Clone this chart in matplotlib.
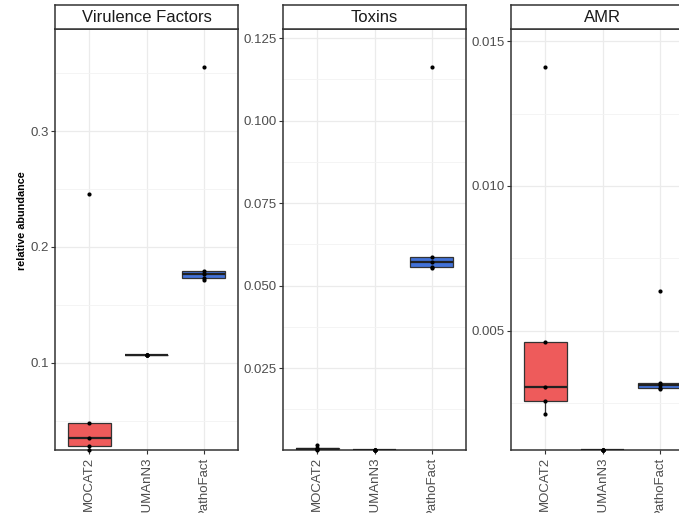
import matplotlib
matplotlib.use("Agg")
import matplotlib.pyplot as plt
import numpy as np
from matplotlib.ticker import FixedLocator, FormatStrFormatter

plt.rcParams['font.family'] = ['Liberation Sans', 'DejaVu Sans']

categories = ["MOCAT2", "HUMAnN3", "PathoFact"]
facets = ["Virulence Factors", "Toxins", "AMR"]

vf_mocat2 = [0.0249, 0.0284, 0.0353, 0.0483, 0.246]
vf_humann3 = [0.1069, 0.1069, 0.1069, 0.1069, 0.1069]
vf_pathofact = [0.1714, 0.1734, 0.1764, 0.1792, 0.355]

tox_mocat2 = [0.0002, 0.0004, 0.0006, 0.0009, 0.0017]
tox_humann3 = [0.00018, 0.00018, 0.00018, 0.00018, 0.00018]
tox_pathofact = [0.0553, 0.0558, 0.0572, 0.0588, 0.1162]

amr_mocat2 = [0.00211, 0.00257, 0.00306, 0.00462, 0.0141]
amr_humann3 = [0.00087, 0.00087, 0.00087, 0.00087, 0.00087]
amr_pathofact = [0.00297, 0.00300, 0.00311, 0.00320, 0.00637]

facet_data = [
    [vf_mocat2, vf_humann3, vf_pathofact],
    [tox_mocat2, tox_humann3, tox_pathofact],
    [amr_mocat2, amr_humann3, amr_pathofact],
]
facet_ticks = [
    [0.1, 0.2, 0.3],
    [0.025, 0.050, 0.075, 0.100, 0.125],
    [0.005, 0.010, 0.015],
]
facet_fmt = ['%.1f', '%.3f', '%.3f']

fill_colors = ['#EE5B5B', '#A9C66B', '#4272D9']

W, H = 679, 513
fig = plt.figure(figsize=(W / 100, H / 100), dpi=100)

lefts = [55, 283, 511]
pw = 183
top_px, bot_px = 29, 450
strip_top = 5

for i in range(3):
    l = lefts[i]
    ax = fig.add_axes([l / W, (H - bot_px) / H, pw / W, (bot_px - top_px) / H])
    sax = fig.add_axes([l / W, (H - top_px) / H, pw / W, (top_px - strip_top) / H])
    data = facet_data[i]
    allv = np.concatenate([np.asarray(d) for d in data])
    lo, hi = allv.min(), allv.max()
    ax.set_ylim(lo, hi + 0.1 * (hi - lo))
    ax.set_xlim(0.4, 3.6)

    bp = ax.boxplot(data, positions=[1, 2, 3], widths=0.75, patch_artist=True,
                    showfliers=False, whis=1.5, zorder=3)
    for j, b in enumerate(bp['boxes']):
        b.set_facecolor(fill_colors[j])
        b.set_edgecolor('#333333')
        b.set_linewidth(0.9)
    for w in bp['whiskers']:
        w.set_color('#333333'); w.set_linewidth(0.9)
    for c in bp['caps']:
        c.set_visible(False)
    for m in bp['medians']:
        m.set_color('#222222'); m.set_linewidth(1.6)

    for j, d in enumerate(data):
        ax.scatter(np.full(len(d), j + 1), d, s=9, color='black', zorder=5,
                   linewidths=0, clip_on=False)

    ticks = facet_ticks[i]
    ax.yaxis.set_major_locator(FixedLocator(ticks))
    step = ticks[1] - ticks[0]
    minors = np.arange(ticks[0] - step / 2, hi + step, step)
    ax.yaxis.set_minor_locator(FixedLocator(minors))
    ax.yaxis.set_major_formatter(FormatStrFormatter(facet_fmt[i]))
    ax.set_xticks([1, 2, 3])
    ax.set_xticklabels(categories, rotation=90, fontsize=9.5, color='#4D4D4D')
    ax.tick_params(axis='y', labelsize=9.5, labelcolor='#4D4D4D', color='#333333',
                   length=3, width=0.8, pad=1.5)
    ax.tick_params(axis='x', color='#333333', length=3, width=0.8, pad=2)
    ax.tick_params(which='minor', length=0)
    ax.grid(True, which='major', color='#EBEBEB', linewidth=0.9, zorder=0)
    ax.grid(True, which='minor', axis='y', color='#F3F3F3', linewidth=0.6, zorder=0)
    ax.set_axisbelow(True)
    for sp in ax.spines.values():
        sp.set_color('#333333'); sp.set_linewidth(1.1)

    sax.set_xticks([]); sax.set_yticks([])
    sax.set_facecolor('white')
    for sp in sax.spines.values():
        sp.set_color('#333333'); sp.set_linewidth(1.1)
    sax.text(0.5, 0.5, facets[i], ha='center', va='center', fontsize=12,
             color='#1A1A1A', transform=sax.transAxes)

fig.text(22 / W, (H - 221) / H, 'relative abundance', rotation=90,
         ha='center', va='center', fontsize=7.8, fontweight='bold', color='black')

fig.savefig('out.png', dpi=100)
